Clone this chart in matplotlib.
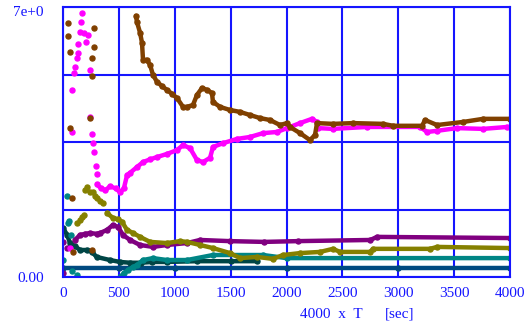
import numpy as np
import matplotlib
matplotlib.use('Agg')
import matplotlib.pyplot as plt
from matplotlib.transforms import ScaledTranslation

# series (time in sec, value)
brown_scatter_t = [45, 45, 63, 63, 277, 277, 260, 260, 242, 80, 90, 260]
brown_scatter_v = [6.59, 6.25, 5.83, 3.86, 6.46, 5.96, 5.68, 5.21, 4.12, 2.05, 0.65, 0.7]
brown_t = [653, 662, 690, 707, 716, 750, 779, 805, 841, 885, 930, 975, 1020, 1074, 1110,
           1163, 1199, 1244, 1289, 1333, 1342, 1405, 1494, 1584, 1673, 1763, 1852, 1942,
           2005, 2031, 2121, 2210, 2255, 2273, 2416, 2595, 2864, 2954, 3213, 3240, 3347,
           3580, 3759, 4000]
brown_v = [6.77, 6.61, 6.33, 6.07, 5.63, 5.63, 5.5, 5.24, 5.06, 4.95, 4.85, 4.75, 4.64, 4.41,
           4.41, 4.46, 4.72, 4.9, 4.85, 4.77, 4.54, 4.41, 4.33, 4.28, 4.2, 4.12, 4.07, 3.94,
           3.99, 3.89, 3.73, 3.55, 3.68, 3.99, 3.97, 3.99, 3.97, 3.92, 3.92, 4.07, 3.94,
           4.02, 4.1, 4.1]

magenta_scatter_t = [170, 160, 152, 188, 224, 206, 134, 134, 125, 107, 98, 80, 242, 242,
                     80, 260, 268, 277, 295, 304, 63]
magenta_scatter_v = [6.85, 6.61, 6.35, 6.33, 6.28, 6.09, 6.04, 5.81, 5.68, 5.44, 5.29, 4.85,
                     5.37, 4.15, 3.76, 3.71, 3.47, 3.24, 2.88, 2.67, 0.75]
magenta_t = [304, 340, 380, 420, 470, 510, 545, 573, 600, 662, 716, 780, 841, 930, 1020,
             1074, 1137, 1199, 1253, 1316, 1342, 1432, 1557, 1673, 1790, 1915, 2005, 2121,
             2228, 2273, 2282, 2416, 2720, 3195, 3258, 3347, 3526, 3759, 3974]
magenta_v = [2.4, 2.3, 2.25, 2.35, 2.3, 2.2, 2.3, 2.64, 2.7, 2.85, 2.98, 3.05, 3.11, 3.19,
             3.29, 3.42, 3.34, 3.03, 2.98, 3.09, 3.37, 3.47, 3.58, 3.63, 3.73, 3.76, 3.86,
             3.99, 4.1, 4.02, 3.86, 3.84, 3.89, 3.89, 3.76, 3.79, 3.86, 3.84, 3.89]

olive_scatter_t = [197, 215, 240, 270, 290, 304, 330, 358, 125, 152, 170, 184]
olive_scatter_v = [2.26, 2.33, 2.2, 2.2, 2.1, 2.05, 1.98, 1.92, 1.4, 1.48, 1.55, 1.61]
olive_t = [394, 447, 492, 528, 573, 627, 689, 779, 930, 1047, 1110, 1226, 1342, 1494, 1584,
           1736, 1879, 1969, 2121, 2300, 2416, 2479, 2748, 2774, 3285, 3347, 4000]
olive_v = [1.66, 1.53, 1.5, 1.43, 1.22, 1.14, 1.04, 0.91, 0.88, 0.93, 0.91, 0.83, 0.75, 0.62,
           0.49, 0.52, 0.47, 0.57, 0.62, 0.65, 0.73, 0.65, 0.65, 0.73, 0.73, 0.78, 0.75]

purple_t = [107, 152, 200, 242, 300, 331, 394, 447, 492, 537, 600, 689, 805, 930, 1110,
            1226, 1494, 1800, 2100, 2750, 2810, 4000]
purple_v = [0.96, 1.09, 1.12, 1.14, 1.12, 1.14, 1.22, 1.35, 1.3, 1.09, 0.96, 0.83, 0.78,
            0.83, 0.88, 0.96, 0.93, 0.91, 0.93, 0.96, 1.04, 1.01]
purple_scatter_t = [0, 0, 40]
purple_scatter_v = [0.9, 0.1, 0.75]

teal_scatter_t = [36, 45, 54, 72, 0, 125, 80]
teal_scatter_v = [2.1, 1.4, 1.45, 1.09, 0.44, 0.05, 0.15]
teal_t = [510, 545, 582, 627, 662, 716, 805, 930, 1110, 1342, 1790, 2000, 4000]
teal_v = [0.0, 0.1, 0.18, 0.26, 0.31, 0.44, 0.49, 0.44, 0.44, 0.57, 0.57, 0.49, 0.49]

darkteal_t = [0, 36, 63, 107, 152, 215, 260, 300, 420, 510, 600, 700, 800, 930, 1200,
              1500, 1736]
darkteal_v = [1.27, 1.1, 0.88, 0.8, 0.7, 0.7, 0.65, 0.52, 0.44, 0.39, 0.37, 0.37, 0.39,
              0.39, 0.41, 0.41, 0.41]

navy_t = [0, 500, 1000, 2000, 3000, 4000]
navy_v = [0.24, 0.24, 0.24, 0.24, 0.24, 0.24]

blue = '#1515ff'
font = 'Liberation Serif'

fig = plt.figure(figsize=(5.24, 3.25), dpi=100)
ax = fig.add_axes([63 / 524, 48 / 325, 447 / 524, 270 / 325])

lw, ms = 3.2, 3.6
def curve(t, v, c):
    ax.plot(t, v, color=c, lw=lw, marker='o', ms=ms, solid_capstyle='round')

def dots(t, v, c):
    ax.plot(t, v, color=c, ls='none', marker='o', ms=ms)

curve(navy_t, navy_v, '#004a80')
curve(darkteal_t, darkteal_v, '#004545')
curve(teal_t, teal_v, '#008585')
dots(teal_scatter_t, teal_scatter_v, '#008585')
curve(purple_t, purple_v, '#800080')
dots(purple_scatter_t, purple_scatter_v, '#800080')
curve(olive_t, olive_v, '#858000')
dots(olive_scatter_t, olive_scatter_v, '#858000')
curve(magenta_t, magenta_v, '#ff00ff')
dots(magenta_scatter_t, magenta_scatter_v, '#ff00ff')
curve(brown_t, brown_v, '#804000')
dots(brown_scatter_t, brown_scatter_v, '#804000')

ax.set_xlim(0, 4000)
ax.set_ylim(0, 7)
ax.set_xticks(np.arange(0, 4001, 500))
ax.set_yticks([0, 1.75, 3.5, 5.25, 7])
ax.set_yticklabels(['0.00', '', '', '', '7e+0'])
ax.tick_params(length=0, colors=blue, labelsize=11)
ax.tick_params(axis='y', pad=14)
ax.tick_params(axis='x', pad=7)
for lab in ax.get_xticklabels() + ax.get_yticklabels():
    lab.set_fontfamily(font)
# nudge the top label down a little, like the reference
top = ax.get_yticklabels()[-1]
top.set_transform(top.get_transform() + ScaledTranslation(0, -3 / 72, fig.dpi_scale_trans))
ax.grid(True, color=blue, lw=1.5, zorder=0)
ax.set_axisbelow(True)
for s in ax.spines.values():
    s.set_color(blue)
    s.set_linewidth(1.5)

fig.text(300 / 524, 1 - 314 / 325, '4000  x  T', color=blue, fontsize=11, family=font,
         va='center', ha='left')
fig.text(385 / 524, 1 - 314 / 325, '[sec]', color=blue, fontsize=11, family=font,
         va='center', ha='left')

fig.savefig('out.png', dpi=100)
